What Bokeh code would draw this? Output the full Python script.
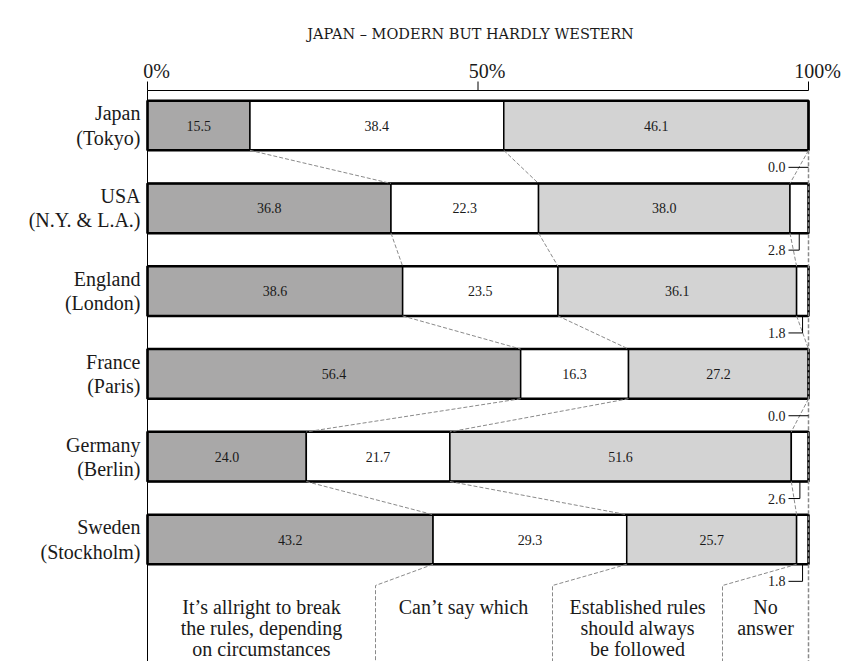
from bokeh.plotting import figure
from bokeh.models import Range1d, ColumnDataSource
from bokeh.core.properties import value
from bokeh.embed import file_html
from bokeh.resources import INLINE

# ---------------- data ----------------
title = "JAPAN – MODERN BUT HARDLY WESTERN"
countries = ["Japan\n(Tokyo)", "USA\n(N.Y. & L.A.)", "England\n(London)",
             "France\n(Paris)", "Germany\n(Berlin)", "Sweden\n(Stockholm)"]
break_rules = [15.5, 36.8, 38.6, 56.4, 24.0, 43.2]
cant_say = [38.4, 22.3, 23.5, 16.3, 21.7, 29.3]
follow_rules = [46.1, 38.0, 36.1, 27.2, 51.6, 25.7]
no_answer = [0.0, 2.8, 1.8, 0.0, 2.6, 1.8]
category_labels = ["It’s allright to break\nthe rules, depending\non circumstances",
                   "Can’t say which",
                   "Established rules\nshould always\nbe followed",
                   "No\nanswer"]
tick_values = [0, 50, 100]
tick_labels = ["0%", "50%", "100%"]

# ---------------- layout helpers (page pixels -> data units) ----------------
X0, PXP = 147.0, 6.61      # page x of 0%, pixels per percent
Y0, PXR = 125.0, 82.8      # page y of first row centre, pixels per row
def X(px): return (px - X0) / PXP
def Y(py): return (py - Y0) / PXR
def DY(d): return d / PXR

W, H = 845, 661
FONT = value("Liberation Serif")
TITLE_FONT = value("DejaVu Serif")
BAR_H = 0.6
DARK, LIGHT = "#a9a8a8", "#d3d3d3"
DASH_COL = "#8a8a8a"
TXT = "#1a1a1a"

p = figure(width=W, height=H, x_range=Range1d(X(0), X(W)),
           y_range=Range1d(Y(H), Y(0)), output_backend="svg",
           toolbar_location=None, min_border=0, x_axis_type=None, y_axis_type=None,
           outline_line_color=None, background_fill_color="white")
p.grid.visible = False

n = len(countries)
rows = list(range(n))
series = [break_rules, cant_say, follow_rules, no_answer]
colors = [DARK, "white", LIGHT, "white"]
totals = [sum(s[i] for s in series) for i in rows]
cum = [[0.0] * n]
for s in series:
    prev = cum[-1]
    cum.append([prev[i] + s[i] * 100.0 / totals[i] for i in rows])

# bars
for k, s in enumerate(series):
    src = ColumnDataSource(dict(y=rows, left=cum[k], right=cum[k + 1]))
    p.hbar(y="y", left="left", right="right", height=BAR_H, source=src,
           fill_color=colors[k], line_color="black", line_width=1.5)
p.hbar(y=rows, left=[0] * n, right=[100] * n, height=BAR_H, fill_color=None,
       line_color="black", line_width=2.5)

# values inside bars
for k in range(3):
    s = series[k]
    mids = [(cum[k][i] + cum[k + 1][i]) / 2 for i in rows]
    p.text(x=mids, y=rows, text=[f"{v:.1f}" for v in s], text_font=FONT,
           text_font_size="14px", text_align="center", text_baseline="middle",
           text_color=TXT)

# dashed connectors between rows
xs, ys = [], []
for k in (1, 2, 3):
    for i in range(n - 1):
        xs.append([cum[k][i], cum[k][i + 1]])
        ys.append([i + BAR_H / 2, i + 1 - BAR_H / 2])
p.multi_line(xs=xs, ys=ys, line_color=DASH_COL, line_width=1, line_dash="4 2")

# dashed leaders from last bar to category labels
sep_x = [X(375), X(552), X(722)]
kink_y = Y(585)
bottom_y = Y(H)
xs, ys = [], []
for k in (1, 2, 3):
    xs.append([cum[k][n - 1], sep_x[k - 1], sep_x[k - 1]])
    ys.append([n - 1 + BAR_H / 2, kink_y, bottom_y])
p.multi_line(xs=xs, ys=ys, line_color=DASH_COL, line_width=1, line_dash="4 2")
# right edge dashed line
p.line(x=[100, 100], y=[BAR_H / 2, bottom_y], line_color=DASH_COL, line_width=1.5,
       line_dash="4 2")
# left solid line
p.line(x=[0, 0], y=[Y(90), bottom_y], line_color="black", line_width=1)

# top axis
p.line(x=[tick_values[0], tick_values[-1]], y=[Y(90), Y(90)], line_color="black", line_width=1)
p.segment(x0=tick_values, y0=[Y(90)] * 3, x1=tick_values, y1=[Y(81)] * 3,
          line_color="black", line_width=1)
p.text(x=tick_values, y=[Y(70)] * 3, text=tick_labels, text_font=FONT,
       text_font_size="20px", text_align="center", text_baseline="alphabetic",
       x_offset=9, text_color=TXT)

# title
p.text(x=[X(470)], y=[Y(33)], text=[title], text_font=TITLE_FONT, text_font_size="14.5px",
       text_align="center", text_baseline="middle", text_color=TXT)

# row labels
p.text(x=[X(140)] * n, y=rows, text=countries, text_font=FONT, text_font_size="20px",
       text_align="right", text_baseline="middle", text_line_height=1.1,
       text_color=TXT)

# no-answer annotations
lab_y = [i + BAR_H / 2 + DY(17) for i in rows]
p.text(x=[X(785)] * n, y=lab_y, text=[f"{v:.1f}" for v in no_answer], text_font=FONT,
       text_font_size="14px", text_align="right", text_baseline="middle",
       text_color=TXT)
xs, ys = [], []
for i in rows:
    if no_answer[i] == 0:
        xs.append([X(788), 100])
        ys.append([lab_y[i], lab_y[i]])
    else:
        mid = (cum[3][i] + cum[4][i]) / 2
        xs.append([X(788), mid, mid])
        ys.append([lab_y[i], lab_y[i], i + BAR_H / 2])
p.multi_line(xs=xs, ys=ys, line_color="black", line_width=1)

# category labels (one text per line)
cat_x = [X(261), X(463), X(637), X(765)]
lx, ly, lt = [], [], []
for cx, lab in zip(cat_x, category_labels):
    for j, line in enumerate(lab.split("\n")):
        lx.append(cx)
        ly.append(Y(606) + DY(21) * j)
        lt.append(line)
p.text(x=lx, y=ly, text=lt, text_font=FONT, text_font_size="20px",
       text_align="center", text_baseline="middle", text_color=TXT)

open("out.html", "w").write(file_html(p, INLINE))
